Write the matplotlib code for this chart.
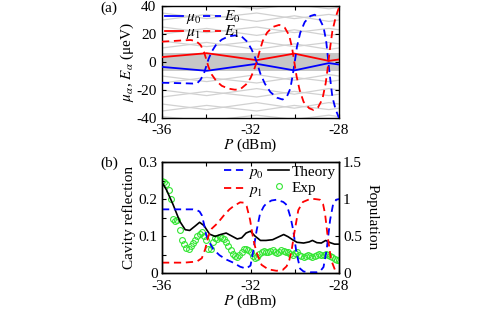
import numpy as np
import matplotlib
matplotlib.use("Agg")
import matplotlib.pyplot as plt

plt.rcParams['font.family'] = ['Liberation Serif', 'DejaVu Serif']
plt.rcParams['mathtext.fontset'] = 'stix'
plt.rcParams['font.size'] = 10

# ---------------- panel (a) data ----------------
P_nodes = [-36.0, -33.98, -31.72, -30.02, -28.46, -28.0]
mu0 = [-3.5, -6.3, -1.3, -6.0, -0.8, -1.8]
mu1 = [3.5, 6.3, 1.3, 6.0, 0.8, 1.8]
band_half = 6.5

gray_levels = [
    [10, 14, 9, 13, 9, 10],
    [15, 11, 15, 11, 14, 13],
    [20, 24, 19, 23, 19, 20],
    [25, 21, 25, 21, 24, 23],
    [30, 34, 29, 33, 29, 30],
    [35, 31, 35, 31, 34, 33],
    [39, 42, 38, 41, 38, 39],
    [-10, -14, -9, -13, -9, -10],
    [-15, -11, -15, -11, -14, -13],
    [-20, -24, -19, -23, -19, -20],
    [-25, -21, -25, -21, -24, -23],
    [-30, -34, -29, -33, -29, -30],
    [-35, -31, -35, -31, -34, -33],
    [-39, -42, -38, -41, -38, -39],
]

E0_P = [-36.0, -35.5, -35.0, -34.6, -34.4, -34.25, -34.1, -34.0, -33.9, -33.75,
        -33.55, -33.3, -33.0, -32.7, -32.4, -32.15, -31.95, -31.8, -31.7, -31.55,
        -31.35, -31.1, -30.8, -30.55, -30.35, -30.2, -30.1, -30.0, -29.9, -29.75,
        -29.55, -29.3, -29.1, -28.9, -28.7, -28.58, -28.5, -28.42, -28.3, -28.15, -28.0]
E0 = [-14.8, -15.0, -15.2, -15.4, -15.0, -12.5, -8.0, -3.0, 2.0, 7.5,
      12.5, 16.0, 18.3, 19.0, 18.2, 14.5, 9.0, 3.5, -1.0, -8.5,
      -15.5, -21.5, -25.5, -26.8, -24.5, -19.0, -10.0, 0.0, 11.0, 21.0,
      28.5, 32.8, 33.8, 31.5, 25.0, 15.0, 3.0, -9.0, -25.0, -34.0, -40.0]

E1_P = [-36.0, -35.5, -35.0, -34.7, -34.45, -34.25, -34.1, -34.0, -33.9, -33.75,
        -33.55, -33.3, -33.0, -32.7, -32.45, -32.2, -32.0, -31.85, -31.72, -31.6,
        -31.45, -31.25, -31.0, -30.7, -30.45, -30.25, -30.12, -30.02, -29.92, -29.78,
        -29.6, -29.35, -29.15, -28.95, -28.75, -28.6, -28.5, -28.42, -28.3, -28.15, -28.0]
E1 = [14.5, 15.0, 15.5, 15.7, 14.8, 12.0, 7.0, 2.0, -3.5, -9.0,
      -13.5, -17.0, -19.0, -19.8, -19.3, -16.0, -11.5, -6.0, 0.0, 7.0,
      15.0, 21.0, 25.0, 26.5, 24.5, 19.0, 10.0, 0.0, -10.0, -20.0,
      -28.5, -33.0, -34.3, -32.5, -26.5, -15.0, -3.0, 8.0, 22.0, 32.0, 39.0]

# ---------------- panel (b) data ----------------
p0_P = [-36.0, -35.5, -35.0, -34.6, -34.43, -34.3, -34.2, -34.1, -34.0, -33.85,
        -33.68, -33.4, -33.08, -32.78, -32.47, -32.2, -32.0, -31.87, -31.72, -31.57,
        -31.4, -31.28, -31.05, -30.83, -30.52, -30.4, -30.29, -30.18, -30.07, -29.92,
        -29.76, -29.6, -29.3, -29.0, -28.86, -28.7, -28.56, -28.4, -28.26, -28.12, -28.0]
p0 = [0.86, 0.86, 0.86, 0.86, 0.85, 0.83, 0.78, 0.66, 0.51, 0.41,
      0.32, 0.24, 0.18, 0.14, 0.085, 0.06, 0.1, 0.31, 0.58, 0.8,
      0.9, 0.94, 0.98, 0.99, 0.96, 0.93, 0.85, 0.74, 0.58, 0.27,
      0.06, 0.02, 0.01, 0.01, 0.02, 0.08, 0.31, 0.72, 0.94, 0.99, 1.0]

p1_P = [-36.0, -35.5, -35.0, -34.6, -34.4, -34.2, -34.05, -33.9, -33.75, -33.5,
        -33.2, -32.95, -32.78, -32.47, -32.3, -32.17, -32.02, -31.87, -31.72, -31.5,
        -31.2, -30.83, -30.55, -30.37, -30.25, -30.14, -30.02, -29.84, -29.63, -29.31,
        -29.1, -28.86, -28.72, -28.63, -28.51, -28.36, -28.18, -28.0]
p1 = [0.14, 0.14, 0.14, 0.15, 0.16, 0.2, 0.32, 0.5, 0.6, 0.67,
      0.78, 0.86, 0.9, 0.955, 0.95, 0.9, 0.72, 0.45, 0.27, 0.11,
      0.05, 0.03, 0.04, 0.09, 0.17, 0.31, 0.54, 0.85, 0.96, 1.0,
      1.0, 0.99, 0.93, 0.8, 0.49, 0.18, 0.04, 0.02]

th_P = [-36.0, -35.8, -35.5, -35.2, -34.95, -34.75, -34.5, -34.3, -34.1, -33.85,
        -33.6, -33.35, -33.1, -32.85, -32.6, -32.4, -32.2, -32.0, -31.8, -31.55,
        -31.3, -31.0, -30.75, -30.5, -30.3, -30.1, -29.9, -29.6, -29.35, -29.2,
        -29.0, -28.8, -28.6, -28.4, -28.2, -28.0]
theory = [0.245, 0.225, 0.185, 0.14, 0.117, 0.115, 0.127, 0.137, 0.128, 0.105,
          0.099, 0.104, 0.108, 0.1, 0.092, 0.095, 0.108, 0.113, 0.1, 0.088,
          0.088, 0.09, 0.097, 0.104, 0.098, 0.09, 0.083, 0.081, 0.084, 0.088,
          0.082, 0.081, 0.088, 0.082, 0.078, 0.078]

exp_P = np.round(np.linspace(-36.0, -28.0, 81), 2)
exp_val = [0.250, 0.245, 0.240, 0.225, 0.200, 0.145, 0.140, 0.142, 0.116, 0.090,
           0.078, 0.068, 0.066, 0.072, 0.080, 0.090, 0.100, 0.106, 0.110, 0.100,
           0.090, 0.066, 0.064, 0.085, 0.094, 0.092, 0.096, 0.095, 0.092, 0.085,
           0.074, 0.062, 0.052, 0.046, 0.044, 0.048, 0.056, 0.064, 0.066, 0.062,
           0.056, 0.045, 0.040, 0.044, 0.052, 0.058, 0.060, 0.056, 0.058, 0.060,
           0.062, 0.058, 0.055, 0.058, 0.062, 0.060, 0.056, 0.058, 0.052, 0.048,
           0.054, 0.058, 0.050, 0.046, 0.044, 0.046, 0.048, 0.046, 0.042, 0.046,
           0.050, 0.052, 0.050, 0.048, 0.052, 0.050, 0.046, 0.042, 0.038, 0.036,
           0.034]

x_ticks = [-36, -34, -32, -30, -28]
x_ticklabels = ['-36', '', '-32', '', '-28']

# ---------------- figure ----------------
W, H = 499, 309
fig = plt.figure(figsize=(W / 100, H / 100), dpi=100)

def frac(l, t, r, b):
    return [l / W, 1 - b / H, (r - l) / W, (b - t) / H]

blue = (0, 0, 1)
red = (1, 0, 0)
dash = (0, (4.0, 2.6))

# ---- panel (a)
ax = fig.add_axes(frac(162, 6, 339, 118))
ax.axhspan(-band_half, band_half, color=(0.78, 0.78, 0.78), lw=0, zorder=0)
for g in gray_levels:
    ax.plot(P_nodes, g, color=(0.82, 0.82, 0.82), lw=0.9, zorder=1)
l_mu0, = ax.plot(P_nodes, mu0, color=blue, lw=1.3, zorder=3)
l_mu1, = ax.plot(P_nodes, mu1, color=red, lw=1.3, zorder=3)
l_E0, = ax.plot(E0_P, E0, color=blue, lw=1.3, ls=dash, zorder=4)
l_E1, = ax.plot(E1_P, E1, color=red, lw=1.3, ls=dash, zorder=4)
ax.set_xlim(-36, -28)
ax.set_ylim(-40, 40)
ax.set_xticks(x_ticks)
ax.set_xticklabels(x_ticklabels)
ax.set_yticks([-40, -20, 0, 20, 40])
ax.set_yticklabels(['-40', '-20', '0', '20', '40'])
ax.tick_params(direction='in', top=True, right=True, length=3, width=0.8, labelsize=11, pad=4)
for s in ax.spines.values():
    s.set_linewidth(1.0)
ax.set_xlabel(r'$P$ (dBm)', fontsize=11, labelpad=0)
ax.set_ylabel(r'$\mu_\alpha$, $E_\alpha$ (μeV)', fontsize=11, labelpad=0)
leg = ax.legend([l_mu0, l_mu1, l_E0, l_E1],
                [r'$\mu_0$', r'$\mu_1$', r'$E_0$', r'$E_1$'],
                ncol=2, loc='upper left', frameon=False, fontsize=11,
                handlelength=1.15, handletextpad=0.2, columnspacing=0.15,
                labelspacing=-0.05, borderaxespad=0.1, borderpad=0.1)
fig.text(100 / W, 1 - 8 / H, '(a)', fontsize=11, va='center', ha='left')

# ---- panel (b)
bx = fig.add_axes(frac(162, 162, 339, 273))
bx2 = bx.twinx()
l_th, = bx.plot(th_P, theory, color='k', lw=1.2, zorder=4)
l_exp, = bx.plot(exp_P, exp_val, ls='none', marker='o', ms=4.2, mfc='none',
                 mec=(0.2, 0.9, 0.2), mew=0.8, zorder=3)
l_p0, = bx2.plot(p0_P, p0, color=blue, lw=1.3, ls=dash)
l_p1, = bx2.plot(p1_P, p1, color=red, lw=1.3, ls=dash)
bx.set_xlim(-36, -28)
bx.set_ylim(0, 0.3)
bx2.set_ylim(0, 1.5)
bx.set_xticks(x_ticks)
bx.set_xticklabels(x_ticklabels)
bx.set_yticks([0, 0.05, 0.1, 0.15, 0.2, 0.25, 0.3])
bx.set_yticklabels(['0', '', '0.1', '', '0.2', '', '0.3'])
bx2.set_yticks([0, 0.5, 1, 1.5])
bx2.set_yticklabels(['0', '0.5', '1', '1.5'])
bx.tick_params(axis='y', direction='in', length=3, width=0.8, labelsize=11, pad=3)
bx.tick_params(axis='x', direction='in', top=True, length=3, width=0.8, labelsize=11, pad=5)
bx2.tick_params(direction='in', length=3, width=0.8, labelsize=11, pad=3)
for s in list(bx.spines.values()) + list(bx2.spines.values()):
    s.set_linewidth(1.0)
bx.set_xlabel(r'$P$ (dBm)', fontsize=11, labelpad=0)
bx.set_ylabel('Cavity reflection', fontsize=11, labelpad=2)
bx2.set_ylabel('Population', fontsize=11, rotation=270, labelpad=12)
bx2.legend([l_p0, l_p1, l_th, l_exp],
           [r'$p_0$', r'$p_1$', 'Theory', 'Exp'],
           ncol=2, loc='upper right', frameon=False, fontsize=11,
           handlelength=1.35, handletextpad=0.2, columnspacing=0.3,
           labelspacing=0.15, borderaxespad=0.1, borderpad=0.1)
fig.text(100 / W, 1 - 163 / H, '(b)', fontsize=11, va='center', ha='left')

fig.savefig('out.png', dpi=100)
